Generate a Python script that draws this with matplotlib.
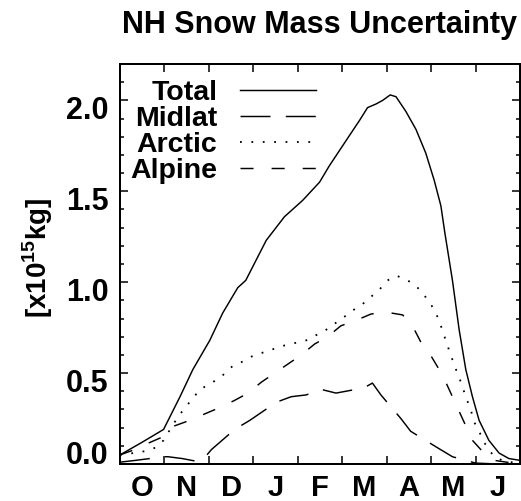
import matplotlib
matplotlib.use("Agg")
import matplotlib.pyplot as plt
import matplotlib.transforms as mtransforms

plt.rcParams['font.family'] = ['Liberation Sans', 'DejaVu Sans']
plt.rcParams['font.weight'] = 'bold'
plt.rcParams['mathtext.fontset'] = 'custom'
plt.rcParams['mathtext.rm'] = 'Liberation Sans:bold'
plt.rcParams['mathtext.bf'] = 'Liberation Sans:bold'
plt.rcParams['lines.scale_dashes'] = False

# ---- data (x in months since 1 October) ----
title = "NH Snow Mass Uncertainty"
ylabel = r"[x10$^{\mathrm{15}}$kg]"
month_labels = ["O", "N", "D", "J", "F", "M", "A", "M", "J"]
series_names = ["Total", "Midlat", "Arctic", "Alpine"]

total_x = [0.00, 0.50, 0.98, 1.35, 1.64, 2.02, 2.31, 2.65, 2.83, 3.06, 3.29, 3.70,
           4.11, 4.49, 4.71, 5.09, 5.39, 5.57, 5.76, 5.91, 6.08, 6.21, 6.43, 6.66,
           6.88, 7.07, 7.22, 7.31, 7.48, 7.63, 7.78, 7.93, 8.08, 8.30, 8.53, 8.75, 9.00]
total_y = [0.05, 0.12, 0.19, 0.37, 0.52, 0.68, 0.83, 0.97, 1.01, 1.12, 1.23, 1.36,
           1.45, 1.55, 1.64, 1.78, 1.89, 1.96, 1.98, 2.00, 2.03, 2.02, 1.94, 1.84,
           1.71, 1.56, 1.42, 1.27, 1.01, 0.74, 0.52, 0.37, 0.24, 0.13, 0.06, 0.03, 0.02]

midlat_x = [0.00, 0.35, 0.67, 0.85, 1.08, 1.40, 1.72, 1.85, 2.06, 2.58, 2.92, 3.52,
            3.85, 4.19, 4.53, 4.86, 5.30, 5.57, 5.68, 5.87, 6.32, 6.54, 7.14, 7.48,
            8.00, 8.50, 9.00]
midlat_y = [0.01, 0.02, 0.03, 0.04, 0.04, 0.03, 0.015, 0.02, 0.08, 0.19, 0.24, 0.34,
            0.37, 0.38, 0.41, 0.39, 0.41, 0.43, 0.445, 0.38, 0.25, 0.18, 0.09, 0.04,
            0.005, 0.0, 0.0]

arctic_x = [0.00, 0.30, 0.55, 0.80, 0.98, 1.20, 1.40, 1.60, 1.80, 2.09, 2.32, 2.54,
            2.73, 2.95, 3.18, 3.67, 4.19, 4.62, 4.82, 5.05, 5.27, 5.46, 5.65, 5.84,
            6.02, 6.23, 6.47, 6.66, 6.84, 6.99, 7.11, 7.22, 7.33, 7.44, 7.56, 7.67,
            7.78, 7.89, 7.97, 8.08, 8.19, 8.30, 8.42, 8.60, 8.80, 9.00]
arctic_y = [0.05, 0.06, 0.07, 0.09, 0.13, 0.22, 0.29, 0.35, 0.41, 0.45, 0.49, 0.54,
            0.56, 0.59, 0.61, 0.65, 0.68, 0.735, 0.77, 0.81, 0.85, 0.88, 0.92, 0.96,
            1.01, 1.035, 1.01, 0.98, 0.93, 0.88, 0.83, 0.76, 0.68, 0.60, 0.52, 0.45,
            0.37, 0.30, 0.23, 0.18, 0.12, 0.08, 0.04, 0.02, 0.01, 0.005]

alpine_x = [0.00, 0.34, 0.64, 0.97, 1.23, 1.57, 1.95, 2.24, 2.58, 2.88, 3.18, 3.48,
            3.78, 4.08, 4.38, 4.67, 4.97, 5.31, 5.65, 5.99, 6.36, 6.58, 6.77, 6.96,
            7.18, 7.33, 7.48, 7.63, 7.78, 7.93, 8.19, 8.42, 8.70, 9.00]
alpine_y = [0.05, 0.08, 0.115, 0.15, 0.21, 0.24, 0.28, 0.31, 0.35, 0.39, 0.45, 0.50,
            0.55, 0.60, 0.66, 0.70, 0.76, 0.79, 0.825, 0.835, 0.82, 0.76, 0.67, 0.61,
            0.52, 0.45, 0.37, 0.29, 0.21, 0.13, 0.06, 0.02, 0.01, 0.0]

y_major = [0.0, 0.5, 1.0, 1.5, 2.0]
y_major_labels = ["0.0", "0.5", "1.0", "1.5", "2.0"]

# ---- figure ----
W, H = 521, 501
fig = plt.figure(figsize=(W / 100, H / 100), dpi=100)
ax = fig.add_axes([120 / W, (H - 464) / H, 400 / W, 400 / H])

lw = 1.05
ax.plot(total_x, total_y, color='black', lw=lw, linestyle='-', label=series_names[0])
ax.plot(midlat_x, midlat_y, color='black', lw=lw, linestyle=(0, (21.6, 11.0)), label=series_names[1])
ax.plot(arctic_x, arctic_y, color='black', lw=1.3, linestyle=(0, (1.3, 6.9)), label=series_names[2])
ax.plot(alpine_x, alpine_y, color='black', lw=lw, linestyle=(0, (9.4, 13.0)), label=series_names[3])

ax.set_xlim(0, 9)
ax.set_ylim(0, 2.2)

# x ticks: month boundaries (major, unlabeled), month centres (minor, labeled)
ax.set_xticks(range(1, 9))
ax.set_xticklabels([])
ax.set_xticks([i + 0.5 for i in range(9)], minor=True)
ax.set_xticklabels(month_labels, minor=True)
ax.tick_params(axis='x', which='major', direction='in', length=5.8, width=1.1,
               top=True, bottom=True)
ax.tick_params(axis='x', which='minor', length=0, pad=7.0, labelsize=21)

ax.set_yticks(y_major)
ax.set_yticklabels(y_major_labels)
ax.set_yticks([i / 10 for i in range(0, 23)], minor=True)
ax.tick_params(axis='y', which='major', direction='in', length=5.8, width=1.1,
               left=True, right=True, pad=8.4, labelsize=22)
ax.tick_params(axis='y', which='minor', direction='in', length=2.9, width=1.1,
               left=True, right=True)

for lab in ax.get_xticklabels(minor=True) + ax.get_yticklabels():
    lab.set_fontweight('bold')

for s in ax.spines.values():
    s.set_linewidth(1.44)

# y tick labels sit slightly below their ticks, bottom one above
for tick, lab in zip(ax.yaxis.get_major_ticks(), y_major_labels):
    dy = 8 / 72 if lab == "0.0" else -5 / 72
    tick.label1.set_transform(tick.label1.get_transform() +
                              mtransforms.ScaledTranslation(0, dy, fig.dpi_scale_trans))

leg = ax.legend(loc='upper right', bbox_to_anchor=(0.49, 0.96), frameon=False,
                markerfirst=False, handlelength=2.67,
                handletextpad=0.8, labelspacing=0.0, borderpad=0, borderaxespad=0,
                prop={'weight': 'bold', 'size': 20.5})

fig.text(320 / W, 1 - 33 / H, title, ha='center', va='baseline',
         fontsize=22, fontweight='bold')
fig.text(47 / W, 1 - 258 / H, ylabel, rotation=90, rotation_mode='anchor',
         ha='center', va='baseline', fontsize=20, fontweight='bold')

fig.savefig("out.png", dpi=100)
